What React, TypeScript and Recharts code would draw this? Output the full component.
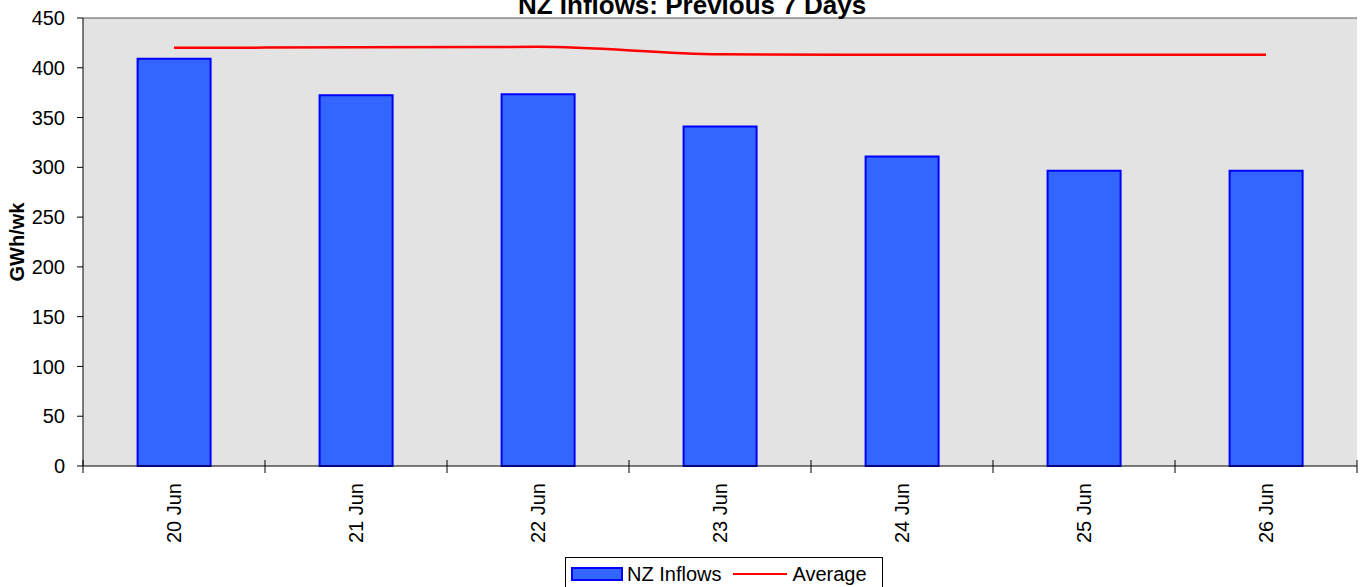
import React from "react";
import {
  ComposedChart,
  Bar,
  Line,
  XAxis,
  YAxis,
  CartesianGrid,
  ReferenceLine,
  Legend,
} from "recharts";

const categories = ["20 Jun", "21 Jun", "22 Jun", "23 Jun", "24 Jun", "25 Jun", "26 Jun"];
const inflows = [409, 372.5, 373.5, 341, 311, 296.5, 296.5];
const average = [420, 420.5, 421, 413.5, 413, 413, 413];
const yTicks = [0, 50, 100, 150, 200, 250, 300, 350, 400, 450];

const seriesNames = { inflows: "NZ Inflows", average: "Average" };

const data = categories.map((name, i) => ({
  name,
  inflows: inflows[i],
  average: average[i],
}));

const FONT = "'Liberation Sans', Arial, Helvetica, sans-serif";

function CategoryTick(props: any) {
  const { x, y, payload, index } = props;
  const half = payload && payload.offset ? payload.offset : 91;
  const ty = y + 17;
  return (
    <g>
      <line x1={x - half} y1={y - 6} x2={x - half} y2={y + 7} stroke="#000" />
      {index === categories.length - 1 && (
        <line x1={x + half} y1={y - 6} x2={x + half} y2={y + 7} stroke="#000" />
      )}
      <text
        x={x}
        y={ty}
        dy="0.35em"
        textAnchor="end"
        transform={`rotate(-90, ${x}, ${ty})`}
        fill="#000"
        fontSize={20}
        fontFamily={FONT}
      >
        {payload.value}
      </text>
    </g>
  );
}

function YLabel(props: any) {
  const vb = props.viewBox || {};
  const cy = vb.y !== undefined ? vb.y + vb.height / 2 : 242;
  return (
    <text
      x={17}
      y={cy}
      dy="0.35em"
      textAnchor="middle"
      transform={`rotate(-90, 17, ${cy})`}
      fontWeight="bold"
      fontSize={20}
      fontFamily={FONT}
      fill="#000"
    >
      GWh/wk
    </text>
  );
}

function LegendBox() {
  return (
    <div
      style={{
        boxSizing: "border-box",
        width: 318,
        height: 40,
        border: "1px solid #000",
        background: "#fff",
        paddingLeft: 5,
        paddingTop: 2,
        fontFamily: FONT,
        fontSize: 20,
        color: "#000",
      }}
    >
      <div style={{ display: "flex", alignItems: "center", height: 28, lineHeight: "28px" }}>
        <span
          style={{
            display: "inline-block",
            boxSizing: "border-box",
            width: 52,
            height: 14,
            background: "#3366FF",
            border: "2px solid #0000FF",
            marginRight: 4,
          }}
        />
        <span>{seriesNames.inflows}</span>
        <span
          style={{
            display: "inline-block",
            width: 54,
            height: 2.5,
            background: "#FF0000",
            marginLeft: 12,
            marginRight: 5,
          }}
        />
        <span>{seriesNames.average}</span>
      </div>
    </div>
  );
}

export default function App() {
  return (
    <div
      style={{
        position: "absolute",
        left: 0,
        top: 0,
        width: 1367,
        height: 587,
        overflow: "hidden",
        background: "#fff",
        fontFamily: FONT,
      }}
    >
      <div
        style={{
          position: "absolute",
          left: 0,
          top: -8,
          width: 1384,
          textAlign: "center",
          fontSize: 26,
          lineHeight: "26px",
          fontWeight: "bold",
          color: "#000",
          zIndex: 2,
        }}
      >
        NZ Inflows: Previous 7 Days
      </div>
      <ComposedChart
        width={1367}
        height={587}
        data={data}
        margin={{ top: 18, right: 10, bottom: 0, left: 0 }}
        barCategoryGap="30%"
      >
        <CartesianGrid fill="#E3E3E3" horizontal={false} vertical={false} stroke="none" />
        <XAxis
          dataKey="name"
          height={121}
          tickLine={false}
          tickSize={0}
          tickMargin={0}
          axisLine={{ stroke: "#000" }}
          tick={<CategoryTick />}
          interval={0}
        />
        <YAxis
          width={83}
          domain={[0, 450]}
          ticks={yTicks}
          interval={0}
          tickSize={6}
          tickMargin={12}
          axisLine={{ stroke: "#000" }}
          tickLine={{ stroke: "#000" }}
          tick={{ fill: "#000", fontSize: 20, fontFamily: FONT }}
          label={<YLabel />}
        />
        <YAxis
          yAxisId="r"
          orientation="right"
          width={0}
          domain={[0, 450]}
          tick={false}
          tickLine={false}
          axisLine={{ stroke: "#000", strokeWidth: 1.5 }}
        />
        <ReferenceLine y={450} stroke="#555" strokeWidth={1} />
        <Bar
          dataKey="inflows"
          name={seriesNames.inflows}
          fill="#3366FF"
          stroke="#0000FF"
          strokeWidth={2}
          isAnimationActive={false}
        />
        <Line
          dataKey="average"
          name={seriesNames.average}
          type="monotone"
          stroke="#FF0000"
          strokeWidth={2.5}
          dot={false}
          activeDot={false}
          isAnimationActive={false}
        />
        <Legend
          layout="horizontal"
          verticalAlign="middle"
          align="center"
          wrapperStyle={{ left: 565, top: 557, width: 318, height: 40 }}
          content={() => <LegendBox />}
        />
      </ComposedChart>
    </div>
  );
}
